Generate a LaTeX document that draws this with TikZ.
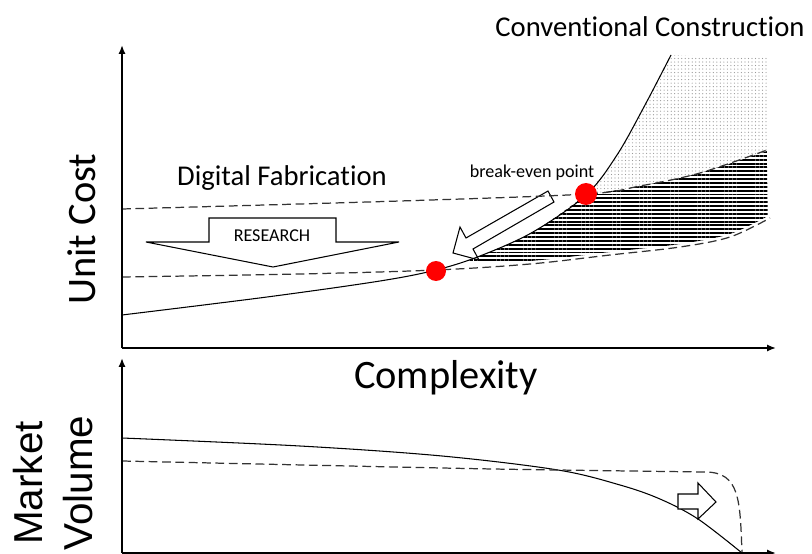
\documentclass[tikz,border=0pt]{standalone}
\usepackage{fontspec}
\setmainfont{Carlito}[Ligatures=NoCommon]
\newfontfamily\arialfont{Liberation Sans}
\usetikzlibrary{calc,arrows.meta,patterns.meta}
\def\drawaxis{\draw[line width=1pt,-{Latex[length=5pt,width=4pt]}]}
\def\breakdot{\fill[red]}
\def\hollowarrow{\draw[line width=0.6pt,fill=white]}

\begin{document}
\begin{tikzpicture}[x=0.02cm,y=-0.02cm,
  dashcurve/.style={line width=0.7pt,black!80,dash pattern=on 5pt off 2.6pt},
  solidcurve/.style={line width=0.6pt,black},
  hatchfill/.style={pattern={Lines[angle=0,distance=2.2pt,line width=1.1pt]},pattern color=black},
  dotfill/.style={pattern={Dots[radius=0.35pt,distance=2pt]},pattern color=black!40},
  big/.style={font=\fontsize{23}{27}\selectfont},
  mid/.style={font=\fontsize{16.3}{19}\selectfont},
  small/.style={font=\fontsize{10.3}{12}\selectfont}]
\useasboundingbox (0,0) rectangle (812,554);

% axes, cost panel on top, volume panel below
\coordinate (o1) at (122,348);
\coordinate (y1) at (122,45);
\coordinate (x1) at (776,348);
\coordinate (o2) at (122,553);
\coordinate (y2) at (122,358);
\coordinate (x2) at (776,553);

% shaded gaps between the cost curves
\path[dotfill] plot[smooth] coordinates {(586,195) (617,155) (645,105) (671,55)}
  -- (768,58) -- (767,151)
  -- plot[smooth] coordinates {(767,151) (700,173) (640,186) (586,195)} -- cycle;
\path[hatchfill] plot[smooth] coordinates {(465,262) (480,256) (533,232) (586,195)}
  -- plot[smooth] coordinates {(586,195) (640,186) (700,173) (767,151)}
  -- (768,216)
  -- plot[smooth] coordinates {(768,216) (730,234) (680,244) (610,252) (530,261) (465,263)} -- cycle;

% the break-even arrow (tip at the lower point)
\coordinate (bt) at (453,253);
\hollowarrow (bt) -- (460,227) -- (466,238) -- (548,191) -- (554,202)
  -- (473,249) -- (479,260) -- cycle;

% cost curves
\draw[solidcurve] plot[smooth,tension=0.55] coordinates {(122,315) (267,297) (380,281) (436,270)
  (480,256) (533,232) (586,195) (617,155) (645,105) (671,55)};
\draw[dashcurve] plot[smooth,tension=0.55] coordinates {(122,209) (400,201) (586,194)
  (640,186) (700,173) (767,150)};
\draw[dashcurve] plot[smooth,tension=0.55] coordinates {(122,277) (300,274) (436,270)
  (530,264) (610,255) (680,247) (730,237) (770,218)};

% break-even points
\breakdot (586,194) circle (11);
\breakdot (436,271) circle (10);

% research arrow
\hollowarrow (209,218) -- (336,218) -- (336,242) -- (399,242) -- (273,267)
  -- (146,242) -- (209,242) -- cycle;

% market volume curves
\draw[solidcurve] plot[smooth,tension=0.55] coordinates {(122,438) (300,446) (442,456)
  (558,470) (620,485) (660,499) (698,519) (742,553)};
\draw[dashcurve] plot[smooth,tension=0.55] coordinates {(122,461) (442,468) (558,470) (705,472)}
  .. controls (740,472) and (740,500) .. (742,553);
\hollowarrow (678,494) -- (698,494) -- (698,483) -- (716,502) -- (698,519)
  -- (698,509) -- (678,509) -- cycle;

\drawaxis (o1) -- (y1);
\drawaxis (o1) -- (x1);
\drawaxis (o2) -- (y2);
\drawaxis (o2) -- (x2);

% labels
\node[mid] (conv) at (650,27) {Conventional Construction};
\node[mid] (digfab) at (282,178) {Digital Fabrication};
\node[small] (bep) at (532,173) {break-even point};
\node[small] (research) at (272,236) {RESEARCH};
\node[big,rotate=90] (costlab) at (82,229) {Unit Cost};
\node[big] (cxlab) at (446,378) {Complexity};
\node[font=\arialfont\fontsize{23}{28.4}\selectfont,rotate=90,align=center] (vollab) at (53,483) {Market\\Volume};
\end{tikzpicture}
\end{document}
